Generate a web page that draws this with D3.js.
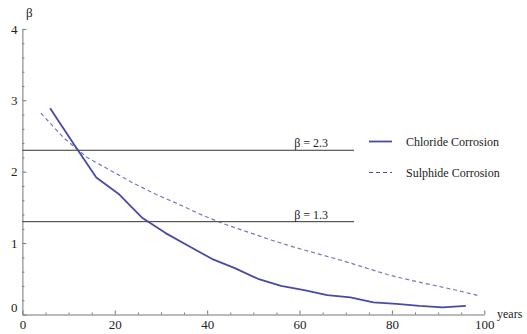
<!DOCTYPE html>
<html>
<head>
<meta charset="utf-8">
<script src="https://cdn.jsdelivr.net/npm/d3@7"></script>
<style>
  body { margin: 0; background: #fff; }
  svg { display: block; }
  text { font-family: "Liberation Serif", "Times New Roman", serif; fill: #222; }
</style>
</head>
<body>
<svg id="chart" width="527" height="334"></svg>
<script>
// chloride corrosion (solid)
const chlorideYears = [6, 11, 16, 21, 26, 31, 36, 41, 46, 51, 56, 61, 66, 71, 76, 81, 86, 91, 96];
const chlorideBeta = [2.89, 2.40, 1.92, 1.68, 1.35, 1.14, 0.96, 0.78, 0.65, 0.50, 0.40, 0.34, 0.27, 0.24, 0.17, 0.15, 0.12, 0.10, 0.12];

// sulphide corrosion (dashed)
const sulphideYears = [4, 9, 14, 19, 24, 29, 34, 39, 44, 49, 54, 59, 64, 69, 74, 79, 84, 89, 94, 99];
const sulphideBeta = [2.82, 2.47, 2.20, 2.02, 1.84, 1.68, 1.54, 1.39, 1.26, 1.15, 1.04, 0.94, 0.85, 0.76, 0.66, 0.56, 0.48, 0.41, 0.34, 0.26];

// target reliability levels
const targetBeta = [2.3, 1.3];
const targetLabels = ['β = 2.3', 'β = 1.3'];
const targetEnd = 71.8;

const xTicks = [0, 20, 40, 60, 80, 100];
const yTicks = [0, 1, 2, 3, 4];
const legendNames = ['Chloride Corrosion', 'Sulphide Corrosion'];

const lineColor = '#4a4aa6';
const axisColor = '#777';

const svg = d3.select('#chart');

const x = d3.scaleLinear().domain([0, 100]).range([22.4, 484.3]);
const y = d3.scaleLinear().domain([0, 4]).range([314.5, 28.9]);

// minor ticks first
const xMinor = d3.range(0, 101, 5).filter(v => v % 20 !== 0);
const yMinor = d3.range(0, 4.01, 0.2).map(v => +v.toFixed(1)).filter(v => Math.abs(v - Math.round(v)) > 1e-6);

svg.append('g')
  .attr('transform', `translate(0,${y(0)})`)
  .call(d3.axisBottom(x).tickValues(xMinor).tickSize(-2).tickFormat(''))
  .call(g => g.select('.domain').remove())
  .call(g => g.selectAll('line').attr('stroke', axisColor));

svg.append('g')
  .attr('transform', `translate(${x(0)},0)`)
  .call(d3.axisLeft(y).tickValues(yMinor).tickSize(-2).tickFormat(''))
  .call(g => g.select('.domain').remove())
  .call(g => g.selectAll('line').attr('stroke', axisColor));

const xAxis = svg.append('g')
  .attr('transform', `translate(0,${y(0)})`)
  .call(d3.axisBottom(x).tickValues(xTicks).tickFormat(d3.format('d'))
    .tickSize(-4).tickSizeOuter(0).tickPadding(5));

const yAxis = svg.append('g')
  .attr('transform', `translate(${x(0)},0)`)
  .call(d3.axisLeft(y).tickValues(yTicks).tickFormat(d3.format('d'))
    .tickSize(-4).tickSizeOuter(0).tickPadding(5));

[xAxis, yAxis].forEach(g => {
  g.attr('font-family', null);
  g.select('.domain').attr('stroke', axisColor);
  g.selectAll('.tick line').attr('stroke', axisColor);
  g.selectAll('.tick text')
    .style('font-family', '"Liberation Serif", "Times New Roman", serif')
    .style('font-size', '13px')
    .attr('fill', '#222');
});

// origin label on the y axis sits a little higher
yAxis.selectAll('.tick').filter(d => d === 0).select('text').attr('dy', '-0.2em');

svg.append('text')
  .attr('x', 497)
  .attr('y', 318)
  .style('font-size', '12px')
  .text('years');

svg.append('text')
  .attr('x', 26)
  .attr('y', 17)
  .style('font-size', '13px')
  .text('β');

// target lines
targetBeta.forEach((b, i) => {
  svg.append('line')
    .attr('x1', x(0)).attr('x2', x(targetEnd))
    .attr('y1', y(b)).attr('y2', y(b))
    .attr('stroke', '#333')
    .attr('stroke-width', 1);
  svg.append('text')
    .attr('x', x(62.5))
    .attr('y', y(b) - 3)
    .attr('text-anchor', 'middle')
    .style('font-size', '12px')
    .text(targetLabels[i]);
});

const line = d3.line().x(d => x(d[0])).y(d => y(d[1]));

svg.append('path')
  .datum(chlorideYears.map((t, i) => [t, chlorideBeta[i]]))
  .attr('d', line)
  .attr('fill', 'none')
  .attr('stroke', lineColor)
  .attr('stroke-width', 1.8)
  .attr('stroke-linejoin', 'round');

svg.append('path')
  .datum(sulphideYears.map((t, i) => [t, sulphideBeta[i]]))
  .attr('d', line)
  .attr('fill', 'none')
  .attr('stroke', lineColor)
  .attr('stroke-opacity', 0.75)
  .attr('stroke-width', 1.2)
  .attr('stroke-dasharray', '4,3');

// legend
const legend = svg.append('g');
legendNames.forEach((name, i) => {
  const ly = 141.5 + i * 31;
  legend.append('line')
    .attr('x1', 369).attr('x2', 392)
    .attr('y1', ly).attr('y2', ly)
    .attr('stroke', lineColor)
    .attr('stroke-width', i === 0 ? 1.8 : 1.2)
    .attr('stroke-dasharray', i === 0 ? null : '4,3');
  legend.append('text')
    .attr('x', 406)
    .attr('y', ly + 4)
    .style('font-size', '12px')
    .text(name);
});
</script>
</body>
</html>
